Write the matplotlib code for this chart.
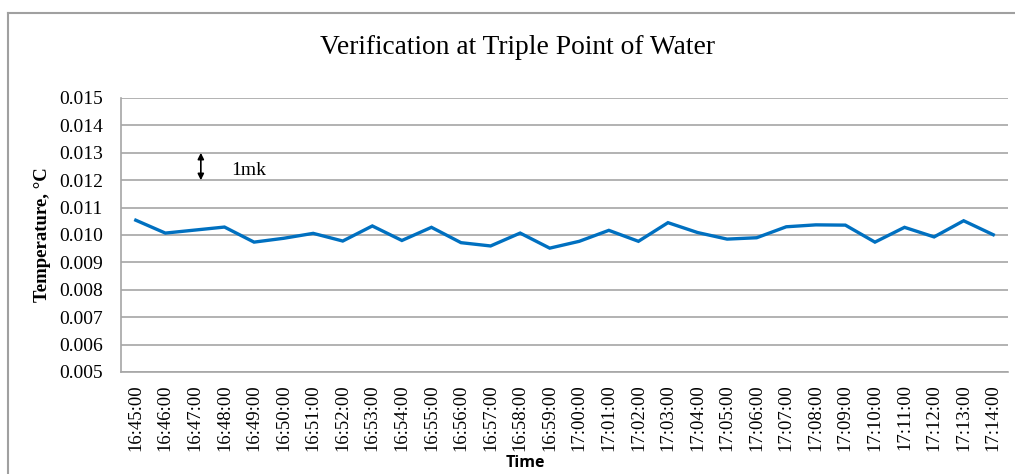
import matplotlib.pyplot as plt
from matplotlib.lines import Line2D

# heures de mesure
heures = ["16:45:00", "16:46:00", "16:47:00", "16:48:00", "16:49:00", "16:50:00",
          "16:51:00", "16:52:00", "16:53:00", "16:54:00", "16:55:00", "16:56:00",
          "16:57:00", "16:58:00", "16:59:00", "17:00:00", "17:01:00", "17:02:00",
          "17:03:00", "17:04:00", "17:05:00", "17:06:00", "17:07:00", "17:08:00",
          "17:09:00", "17:10:00", "17:11:00", "17:12:00", "17:13:00", "17:14:00"]
# temperatures lues (degC)
temperatures = [0.01054, 0.01007, 0.01018, 0.01029, 0.00974, 0.00988,
                0.01006, 0.00978, 0.01033, 0.00980, 0.01028, 0.00972,
                0.00960, 0.01007, 0.00952, 0.00977, 0.01017, 0.00977,
                0.01045, 0.01009, 0.00985, 0.00990, 0.01030, 0.01037,
                0.01036, 0.00974, 0.01028, 0.00993, 0.01052, 0.01001]
y_ticks = [0.005, 0.006, 0.007, 0.008, 0.009, 0.010, 0.011, 0.012, 0.013, 0.014, 0.015]

serif = "Liberation Serif"

fig = plt.figure(figsize=(10.15, 4.74), dpi=100)
ax = fig.add_axes([121/1015, 1-372/474, (1008-121)/1015, (372-98)/474])

x = list(range(len(heures)))
ax.plot(x, temperatures, color="#0070C0", linewidth=2.4, solid_joinstyle="miter")

ax.set_xlim(-0.5, len(heures)-0.5)
ax.set_ylim(0.005, 0.015)
ax.set_yticks(y_ticks)
ax.set_yticklabels([f"{v:.3f}" for v in y_ticks], fontfamily=serif, fontsize=14)
ax.set_xticks(x)
ax.set_xticklabels(heures, rotation=90, fontfamily=serif, fontsize=13.5)
ax.tick_params(axis="y", length=0, pad=13)
ax.tick_params(axis="x", length=0, pad=9)

# grille horizontale
ax.grid(True, axis="y", color="#A6A6A6", linewidth=1.2)
ax.set_axisbelow(True)
for s in ["top", "right"]:
    ax.spines[s].set_visible(False)
ax.spines["left"].set_color("#A6A6A6")
ax.spines["bottom"].set_color("#A6A6A6")
ax.spines["left"].set_linewidth(1.2)
ax.spines["bottom"].set_linewidth(1.2)

ax.set_ylabel("Temperature, °C", fontfamily=serif, fontweight="bold", fontsize=13.5)
ax.yaxis.set_label_coords(-(121-51)/887, 0.5)
ax.set_xlabel("Time", fontfamily="Open Sans", fontweight="bold", fontsize=11.5)
ax.xaxis.set_label_coords((525-121)/887, -(463-372)/274)
ax.xaxis.label.set_va("center")

# fleche 1mk
ax.annotate("", xy=(2.2, 0.012), xytext=(2.2, 0.013),
            arrowprops=dict(arrowstyle="<|-|>", color="black", lw=1.2, mutation_scale=9,
                            shrinkA=0, shrinkB=0))
ax.text(3.22, 0.01234, "1mk", fontfamily=serif, fontsize=14, va="center")

fig.text(518/1015, 1-47/474, "Verification at Triple Point of Water", fontfamily=serif,
         fontsize=19.8, ha="center", va="center")

# cadre du graphique
fig.add_artist(Line2D([8/1015, 8/1015], [0, 1-13/474], color="#A0A0A0", lw=1.5, transform=fig.transFigure))
fig.add_artist(Line2D([8/1015, 1], [1-13/474, 1-13/474], color="#A0A0A0", lw=1.5, transform=fig.transFigure))

fig.savefig("out.png", dpi=100)
